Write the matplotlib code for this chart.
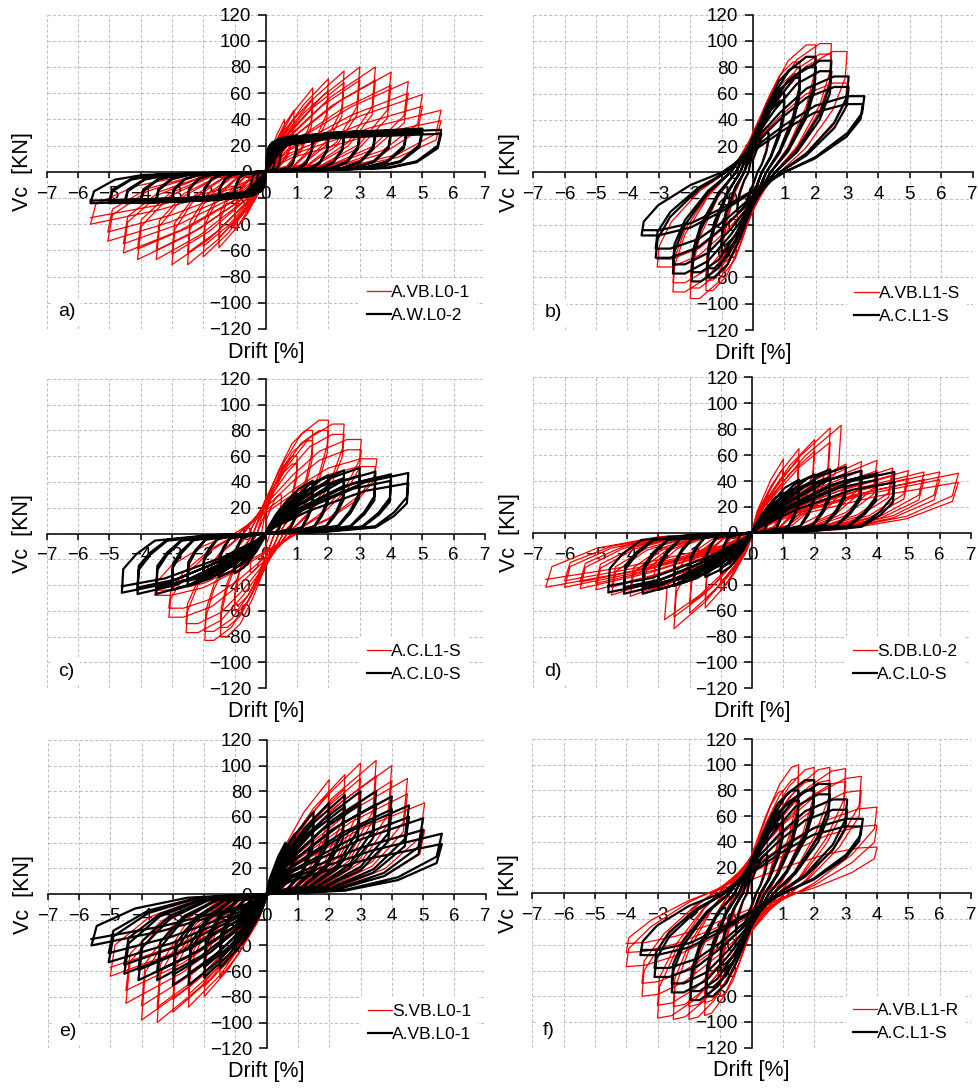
import matplotlib
matplotlib.use("Agg")
import matplotlib.pyplot as plt
import numpy as np

plt.rcParams['font.family'] = ['Liberation Sans', 'DejaVu Sans']

# ---- cycle peaks: drift [%], force [kN] ----
# A.VB.L0-1
avbl01_pd = [0.3, 0.6, 0.6, 0.9, 0.9, 1.5, 1.5, 2.0, 2.0, 2.5, 2.5, 3.0, 3.0, 3.5, 3.5, 4.0, 4.0, 4.55, 4.55, 5.0, 5.0, 5.6, 5.6]
avbl01_pf = [20, 40, 34, 47, 41, 64, 56, 71, 62, 77, 68, 80, 70, 80, 70, 76, 66, 69, 60, 59, 50, 47, 39]
avbl01_nd = [-0.3, -0.6, -0.6, -1.0, -1.0, -1.5, -1.5, -2.0, -2.0, -2.5, -2.5, -3.0, -3.0, -3.5, -3.5, -4.1, -4.1, -4.55, -4.55, -5.05, -5.05, -5.6, -5.6]
avbl01_nf = [-15, -30, -26, -45, -40, -58, -50, -65, -57, -71, -62, -71, -63, -67, -60, -67, -59, -62, -55, -53, -46, -40, -35]

# A.W.L0-2
awl02_pd = [0.3, 0.5, 1.0, 1.0, 1.5, 1.5, 2.0, 2.0, 2.5, 2.5, 3.0, 3.0, 3.5, 3.5, 4.0, 4.0, 4.5, 4.5, 5.0, 5.0, 5.6, 5.6]
awl02_pf = [18, 25, 28, 26, 28, 26, 28, 26, 29, 27, 31, 28, 31, 28, 31, 29, 32, 29, 33, 30, 32, 29]
awl02_nd = [-0.3, -0.5, -1.0, -1.0, -1.5, -1.5, -2.0, -2.0, -2.5, -2.5, -3.0, -3.0, -3.5, -3.5, -4.0, -4.0, -4.5, -4.5, -5.0, -5.0, -5.6, -5.6]
awl02_nf = [-12, -17, -20, -19, -21, -20, -22, -20, -22, -21, -23, -21, -23, -21, -24, -22, -24, -22, -24, -22, -24, -22]

# A.VB.L1-S
avbl1s_pd = [0.5, 1.0, 1.0, 1.5, 1.5, 2.0, 2.0, 2.5, 2.5, 3.0, 3.0]
avbl1s_pf = [35, 60, 55, 84, 75, 97, 88, 98, 90, 92, 68]
avbl1s_nd = [-0.5, -1.0, -1.0, -1.5, -1.5, -2.0, -2.0, -2.55, -2.55, -3.05, -3.05]
avbl1s_nf = [-35, -75, -68, -90, -82, -96, -88, -91, -84, -72, -66]

# A.C.L1-S
acl1s_pd = [0.5, 1.0, 1.0, 1.5, 1.5, 2.0, 2.0, 2.5, 2.5, 3.05, 3.05, 3.55, 3.5]
acl1s_pf = [30, 60, 54, 80, 72, 88, 80, 85, 77, 73, 65, 58, 52]
acl1s_nd = [-0.5, -1.0, -1.0, -1.45, -1.45, -1.95, -1.95, -2.55, -2.55, -3.1, -3.1, -3.55, -3.5]
acl1s_nf = [-30, -60, -55, -80, -73, -83, -76, -77, -70, -65, -58, -48, -44]

# A.C.L0-S
acl0s_pd = [0.5, 1.0, 1.0, 1.5, 1.5, 2.0, 2.0, 2.5, 2.5, 3.0, 3.0, 3.5, 3.5, 4.0, 4.0, 4.55, 4.55]
acl0s_pf = [15, 31, 27, 41, 36, 45, 40, 49, 43, 51, 45, 48, 43, 46, 41, 47, 39]
acl0s_nd = [-0.5, -1.0, -1.0, -1.5, -1.5, -2.0, -2.0, -2.5, -2.5, -3.0, -3.0, -3.5, -3.5, -4.1, -4.1, -4.6, -4.6]
acl0s_nf = [-15, -31, -27, -34, -30, -36, -32, -41, -37, -44, -39, -47, -42, -47, -42, -46, -41]

# S.DB.L0-2
sdbl02_pd = [0.5, 1.0, 1.0, 1.5, 1.5, 2.0, 2.0, 2.5, 2.5, 2.85, 3.0, 3.5, 3.5, 4.0, 4.0, 4.5, 4.5, 5.0, 5.0, 5.5, 5.5, 6.0, 6.0, 6.6, 6.6]
sdbl02_pf = [30, 57, 50, 65, 57, 72, 63, 81, 70, 83, 53, 55, 48, 56, 48, 50, 44, 48, 42, 47, 41, 47, 41, 46, 39]
sdbl02_nd = [-0.5, -1.0, -1.0, -1.5, -1.5, -2.0, -2.0, -2.5, -2.5, -2.8, -3.2, -3.5, -3.5, -3.9, -3.9, -4.5, -4.5, -5.0, -5.0, -5.5, -5.5, -6.0, -6.0, -6.6, -6.6]
sdbl02_nf = [-25, -45, -40, -58, -51, -62, -55, -74, -65, -67, -44, -47, -41, -49, -43, -48, -42, -44, -39, -43, -38, -42, -37, -42, -36]

# S.VB.L0-1
svbl01_pd = [0.5, 1.0, 1.0, 1.5, 1.5, 2.0, 2.0, 2.5, 2.5, 3.0, 3.0, 3.5, 3.5, 4.0, 4.0, 4.5, 4.5, 5.05, 5.05]
svbl01_pf = [30, 45, 40, 59, 52, 89, 78, 93, 82, 102, 90, 104, 92, 100, 88, 90, 78, 71, 50]
svbl01_nd = [-0.5, -1.0, -1.0, -1.5, -1.5, -2.0, -2.0, -2.5, -2.5, -3.0, -3.0, -3.5, -3.5, -4.0, -4.0, -4.5, -4.5, -5.0, -5.0]
svbl01_nf = [-25, -45, -40, -65, -58, -80, -72, -88, -78, -92, -82, -100, -88, -98, -87, -85, -75, -64, -57]

# A.VB.L1-R
avbl1r_pd = [0.5, 1.0, 1.0, 1.5, 1.5, 2.0, 2.0, 2.5, 2.5, 3.0, 3.0, 3.5, 3.5, 4.0, 4.0, 4.0]
avbl1r_pf = [40, 80, 72, 100, 90, 98, 88, 98, 88, 97, 87, 91, 80, 67, 53, 36]
avbl1r_nd = [-0.5, -1.0, -1.0, -1.5, -1.5, -2.0, -2.0, -2.5, -2.5, -3.0, -3.0, -3.5, -3.5, -4.0, -4.0, -4.0]
avbl1r_nf = [-40, -80, -72, -95, -85, -98, -88, -98, -88, -97, -87, -80, -70, -57, -46, -39]

# ---- loop shapes: descending branch, normalised (1,1) -> (-1,-1) ----
PINCHED = [(1, 1), (0.97, 0.62), (0.75, 0.28), (0.45, 0.07), (0.15, 0.015), (0, 0),
           (-0.05, -0.1), (-0.15, -0.28), (-0.6, -0.72), (-1, -1)]
PLATEAU = [(1, 1), (0.98, 0.62), (0.86, 0.25), (0.7, 0.1), (0.35, 0.04), (0, 0),
           (-0.04, -0.28), (-0.12, -0.7), (-0.4, -0.9), (-1, -1)]
MODERATE = [(1, 1), (0.99, 0.6), (0.9, 0.35), (0.77, 0.12), (0.4, 0.03), (0, 0),
            (-0.06, -0.12), (-0.3, -0.45), (-0.7, -0.85), (-1, -1)]
FAT = [(1, 1), (0.98, 0.78), (0.85, 0.52), (0.56, 0.2), (0.28, 0), (0, -0.31),
       (-0.28, -0.62), (-0.56, -0.875), (-0.85, -1), (-1, -1)]
FAT2 = [(1, 1), (0.98, 0.75), (0.8, 0.45), (0.5, 0.12), (0.35, 0), (0, -0.3),
        (-0.3, -0.6), (-0.6, -0.85), (-0.85, -0.98), (-1, -1)]

specimens = {
    'A.VB.L0-1': (avbl01_pd, avbl01_pf, avbl01_nd, avbl01_nf, PINCHED),
    'A.W.L0-2': (awl02_pd, awl02_pf, awl02_nd, awl02_nf, PLATEAU),
    'A.VB.L1-S': (avbl1s_pd, avbl1s_pf, avbl1s_nd, avbl1s_nf, FAT),
    'A.C.L1-S': (acl1s_pd, acl1s_pf, acl1s_nd, acl1s_nf, FAT),
    'A.C.L0-S': (acl0s_pd, acl0s_pf, acl0s_nd, acl0s_nf, MODERATE),
    'S.DB.L0-2': (sdbl02_pd, sdbl02_pf, sdbl02_nd, sdbl02_nf, PINCHED),
    'S.VB.L0-1': (svbl01_pd, svbl01_pf, svbl01_nd, svbl01_nf, PINCHED),
    'A.VB.L1-R': (avbl1r_pd, avbl1r_pf, avbl1r_nd, avbl1r_nf, FAT2),
}

panels = [('a)', 'A.VB.L0-1', 'A.W.L0-2'),
          ('b)', 'A.VB.L1-S', 'A.C.L1-S'),
          ('c)', 'A.C.L1-S', 'A.C.L0-S'),
          ('d)', 'S.DB.L0-2', 'A.C.L0-S'),
          ('e)', 'S.VB.L0-1', 'A.VB.L0-1'),
          ('f)', 'A.VB.L1-R', 'A.C.L1-S')]

rects = [[0.0477, 0.6982, 0.4477, 0.2884],
         [0.5447, 0.6972, 0.4488, 0.2893],
         [0.0477, 0.3688, 0.4477, 0.2835],
         [0.5447, 0.3685, 0.4471, 0.2853],
         [0.0487, 0.0383, 0.4474, 0.2829],
         [0.5437, 0.0388, 0.4481, 0.2832]]


def map_pts(pts, dp, fp, dn, fn):
    xs, ys = [], []
    for u, v in pts:
        xs.append(u * dp if u >= 0 else -u * dn)
        ys.append(v * fp if v >= 0 else -v * fn)
    return xs, ys


def build_history(pd, pf, nd, nf, shape):
    asc = [(-u, -v) for u, v in shape]
    X, Y = [], []
    prev_d, prev_f = 0.0, 0.0
    for i in range(len(pd)):
        x, y = map_pts(asc, pd[i], pf[i], prev_d, prev_f)
        X += x
        Y += y
        x, y = map_pts(shape, pd[i], pf[i], nd[i], nf[i])
        X += x[1:]
        Y += y[1:]
        prev_d, prev_f = nd[i], nf[i]
    return np.array(X), np.array(Y)


fig = plt.figure(figsize=(9.79, 10.9), dpi=100)

for (tag, red_name, blk_name), rect in zip(panels, rects):
    ax = fig.add_axes(rect)
    ax.set_xlim(-7, 7)
    ax.set_ylim(-120, 120)
    ax.set_xticks(range(-7, 8))
    ax.set_yticks(range(-120, 121, 20))
    ax.grid(True, color='#bfbfbf', linestyle=(0, (3, 2)), linewidth=0.75)
    ax.set_axisbelow(True)
    for s in ['top', 'right']:
        ax.spines[s].set_visible(False)
    ax.spines['left'].set_position(('data', 0))
    ax.spines['bottom'].set_position(('data', 0))
    ax.spines['left'].set_linewidth(1.1)
    ax.spines['bottom'].set_linewidth(1.1)
    ax.tick_params(axis='both', labelsize=13.5, direction='out', width=1.1)
    ax.tick_params(axis='y', length=5.5, pad=5)
    ax.tick_params(axis='x', length=4, pad=6)

    xr, yr = build_history(*specimens[red_name])
    ax.plot(xr, yr, color='#ff0000', lw=0.9, zorder=3, label=red_name)
    xb, yb = build_history(*specimens[blk_name])
    ax.plot(xb, yb, color='#000000', lw=1.6, zorder=3, label=blk_name)

    ax.text(-0.055, 0.5, 'Vc  [KN]', transform=ax.transAxes, rotation=90,
            ha='center', va='center', fontsize=15.5)
    ax.text(0.5, -0.075, 'Drift [%]', transform=ax.transAxes,
            ha='center', va='center', fontsize=15.5)
    ax.text(0.025, 0.055, tag, transform=ax.transAxes, ha='left', va='center',
            fontsize=14, zorder=6,
            bbox=dict(facecolor='white', edgecolor='none', pad=4))
    leg = ax.legend(loc='lower left', bbox_to_anchor=(0.695, -0.03),
                    fontsize=12.5, frameon=True, fancybox=False,
                    framealpha=1, edgecolor='none', handlelength=1.4,
                    handletextpad=0.0, borderpad=0.4, labelspacing=0.45)
    leg.set_zorder(6)

fig.savefig('out.png', dpi=100)
